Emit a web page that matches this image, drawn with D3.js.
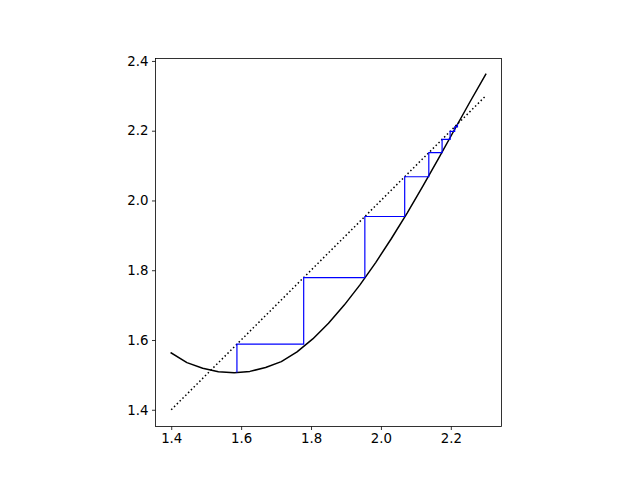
<!DOCTYPE html>
<html>
<head>
<meta charset="utf-8">
<script src="https://cdn.jsdelivr.net/npm/d3@7"></script>
<style>
  html, body { margin: 0; padding: 0; background: #fff; }
  svg { display: block; }
  .tick text { font-family: "DejaVu Sans", sans-serif; font-size: 13.33px; fill: #000; }
</style>
</head>
<body>
<script>
// curve sample points (x, f(x))
const curveX = [1.4, 1.445, 1.49, 1.535, 1.58, 1.625, 1.67, 1.715, 1.76, 1.805, 1.85,
                1.895, 1.94, 1.985, 2.03, 2.075, 2.12, 2.165, 2.21, 2.255, 2.3];
const curveY = [1.563, 1.535, 1.519, 1.509, 1.506, 1.510, 1.521, 1.538, 1.566, 1.603, 1.648,
                1.700, 1.758, 1.822, 1.891, 1.964, 2.041, 2.121, 2.202, 2.283, 2.362];
// diagonal y = x
const diagX = [1.4, 2.3];
// cobweb iterates
const cobStartY = 1.507;
const cobX = [1.588, 1.779, 1.954, 2.068, 2.137, 2.175, 2.198, 2.211, 2.219];
const xTicks = [1.4, 1.6, 1.8, 2.0, 2.2];
const yTicks = [1.4, 1.6, 1.8, 2.0, 2.2, 2.4];

const W = 640, H = 480;
const axL = 155.5, axR = 501.5, axT = 58.5, axB = 426.5;

const svg = d3.select("body").append("svg").attr("width", W).attr("height", H);

const x = d3.scaleLinear().domain([1.355, 2.345]).range([axL, axR]);
const y = d3.scaleLinear().domain([1.352, 2.407]).range([axB, axT]);

svg.append("clipPath").attr("id", "clip").append("rect")
  .attr("x", axL).attr("y", axT).attr("width", axR - axL).attr("height", axB - axT);

const g = svg.append("g").attr("clip-path", "url(#clip)");
const line = d3.line().x(d => x(d[0])).y(d => y(d[1]));

// curve
g.append("path")
  .attr("d", line(curveX.map((v, i) => [v, curveY[i]])))
  .attr("fill", "none").attr("stroke", "#000").attr("stroke-width", 1.5)
  .attr("stroke-linejoin", "round").attr("stroke-linecap", "square");

// diagonal dotted
g.append("path")
  .attr("d", line(diagX.map(v => [v, v])))
  .attr("fill", "none").attr("stroke", "#000").attr("stroke-width", 1.5)
  .attr("stroke-dasharray", "1.5,2.475");

// cobweb
const cob = [[cobX[0], cobStartY]];
for (let i = 0; i < cobX.length; i++) {
  cob.push([cobX[i], cobX[i]]);
  if (i + 1 < cobX.length) cob.push([cobX[i + 1], cobX[i]]);
}
g.append("path")
  .attr("d", line(cob))
  .attr("fill", "none").attr("stroke", "#0000ff").attr("stroke-width", 1.2);

// axes
const xAxis = d3.axisBottom(x).tickValues(xTicks).tickFormat(d3.format(".1f"))
  .tickSize(3.5).tickPadding(3.5);
const yAxis = d3.axisLeft(y).tickValues(yTicks).tickFormat(d3.format(".1f"))
  .tickSize(3.5).tickPadding(3.5);

const gx = svg.append("g").attr("transform", `translate(0,${axB})`).call(xAxis);
const gy = svg.append("g").attr("transform", `translate(${axL},0)`).call(yAxis);
[gx, gy].forEach(a => {
  a.select(".domain").remove();
  a.selectAll(".tick line").attr("stroke", "#000").attr("stroke-width", 0.8);
});

svg.append("rect")
  .attr("x", axL).attr("y", axT).attr("width", axR - axL).attr("height", axB - axT)
  .attr("fill", "none").attr("stroke", "#000").attr("stroke-width", 0.8);
</script>
</body>
</html>
